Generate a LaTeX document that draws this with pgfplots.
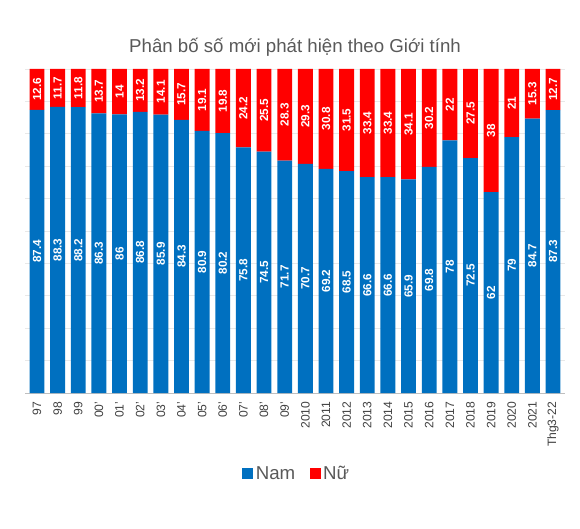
\documentclass[border=0pt]{standalone}
\usepackage{pgfplots}
\pgfplotsset{compat=1.18}
\usepackage{pgfplotstable}
\usepackage{fontspec}
\setmainfont{Liberation Sans}
\definecolor{namblue}{HTML}{0070C0}
\definecolor{nured}{HTML}{FF0000}
\definecolor{txtgray}{HTML}{595959}
\definecolor{tickgray}{HTML}{404040}

\pgfplotstableread{
idx nam  nu
0   87.4 12.6
1   88.3 11.7
2   88.2 11.8
3   86.3 13.7
4   86   14
5   86.8 13.2
6   85.9 14.1
7   84.3 15.7
8   80.9 19.1
9   80.2 19.8
10  75.8 24.2
11  74.5 25.5
12  71.7 28.3
13  70.7 29.3
14  69.2 30.8
15  68.5 31.5
16  66.6 33.4
17  66.6 33.4
18  65.9 34.1
19  69.8 30.2
20  78   22
21  72.5 27.5
22  62   38
23  79   21
24  84.7 15.3
25  87.3 12.7
}\gioitinh

\pgfplotsset{
    khung/.style={
        at={(18.75pt,101.25pt)}, anchor=south west,
        scale only axis, width=405pt, height=243pt,
        xmin=-0.58, xmax=25.58, ymin=0, ymax=100,
    },
}

\begin{document}
\begin{tikzpicture}
\path[use as bounding box] (0,0) rectangle (435pt,396pt);
\begin{axis}[
    khung,
    ybar stacked, bar width=0.72,
    xtick=data,
    xticklabels={97,98,99,00',01',02',03',04',05',06',07',08',09',2010,2011,2012,2013,2014,2015,2016,2017,2018,2019,2020,2021,Thg3-22},
    x tick label style={rotate=90, anchor=east, font=\fontsize{9.1}{10}\selectfont, text=tickgray},
    xticklabel shift=3pt,
    ytick={0,10,...,100}, yticklabels={},
    ymajorgrids, major grid style={color=black!9, line width=0.5pt},
    axis x line*=bottom, axis y line*=left,
    x axis line style={color=black!25},
    y axis line style={draw=none},
    tick style={draw=none},
    title={Phân bố số mới phát hiện theo Giới tính},
    title style={at={(axis description cs:0.5,1)}, anchor=center, yshift=10.5pt,
        font=\fontsize{14}{16}\selectfont, text=txtgray},
    legend style={at={(axis description cs:0.504,-0.249)}, anchor=center,
        draw=none, fill=none, font=\fontsize{14}{16}\selectfont, text=txtgray,
        /tikz/every even column/.append style={column sep=9pt}},
    legend columns=2,
    legend image code/.code={\fill[#1] (1pt,-4.1pt) rectangle (9pt,4.1pt);},
]
\addplot[fill=namblue, draw=none] table[x=idx, y=nam] {\gioitinh};
\addlegendentry{Nam}
\addplot[fill=nured, draw=none] table[x=idx, y=nu] {\gioitinh};
\addlegendentry{Nữ}
\end{axis}
% nhãn giá trị ở giữa mỗi đoạn
\begin{axis}[
    khung, hide axis,
    point meta=explicit symbolic,
    nodes near coords={\pgfplotspointmeta},
    nodes near coords style={anchor=center, rotate=90, text=white,
        font=\bfseries\fontsize{8.8}{10}\selectfont},
]
\addplot[only marks, mark=none] table[x=idx, y expr=\thisrow{nam}/2, meta=nam] {\gioitinh};
\addplot[only marks, mark=none] table[x=idx, y expr=\thisrow{nam}+\thisrow{nu}/2, meta=nu] {\gioitinh};
\end{axis}
\end{tikzpicture}
\end{document}
